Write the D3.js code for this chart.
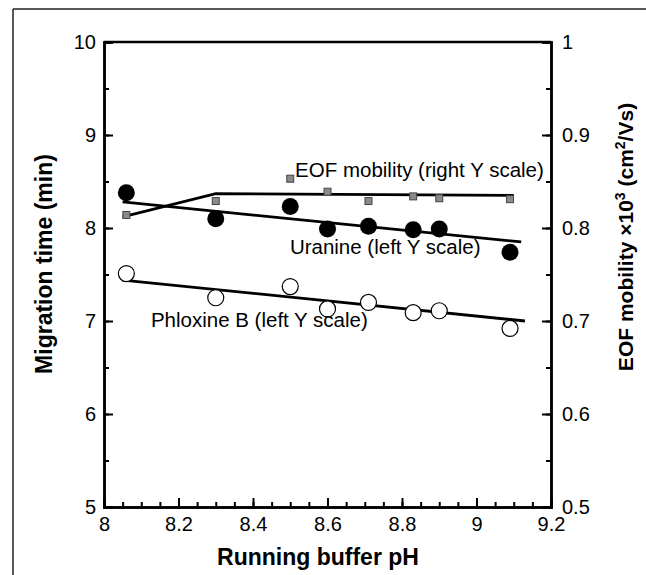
<!DOCTYPE html>
<html>
<head>
<meta charset="utf-8">
<script src="https://cdn.jsdelivr.net/npm/d3@7"></script>
<style>
  body { margin: 0; background: #fff; }
  svg text { font-family: "Liberation Sans", Arial, sans-serif; }
</style>
</head>
<body>
<svg id="chart" width="646" height="575"></svg>
<script>
// running buffer pH for each measurement
var phValues = [8.06, 8.30, 8.50, 8.60, 8.71, 8.83, 8.90, 9.09]
var uranine = [8.38, 8.10, 8.23, 7.99, 8.02, 7.98, 7.99, 7.74]   // min, left
var phloxine = [7.51, 7.25, 7.37, 7.13, 7.20, 7.09, 7.11, 6.92]  // min, left
var eofMobility = [0.814, 0.829, 0.853, 0.839, 0.829, 0.834, 0.832, 0.831] // right

// fitted lines as drawn in the figure [pH, value]
var uranineFit = [[8.05, 8.28], [9.12, 7.85]]
var phloxineFit = [[8.05, 7.44], [9.13, 7.00]]
var eofFit = [[8.05, 0.812], [8.30, 0.837], [9.10, 0.835]]

var xTicks = [8, 8.2, 8.4, 8.6, 8.8, 9, 9.2]
var leftTicks = [5, 6, 7, 8, 9, 10]
var rightTicks = [0.5, 0.6, 0.7, 0.8, 0.9, 1]

var plotL = 104, plotR = 551, plotT = 42, plotB = 507

var svg = d3.select('#chart')

var x = d3.scaleLinear().domain([8, 9.2]).range([plotL, plotR])
var yL = d3.scaleLinear().domain([5, 10]).range([plotB, plotT])
var yR = d3.scaleLinear().domain([0.5, 1]).range([plotB, plotT])

// outer figure border (top and left only)
svg.append('line').attr('x1', 13).attr('x2', 646).attr('y1', 9).attr('y2', 9)
  .attr('stroke', '#222').attr('stroke-width', 1.5)
svg.append('line').attr('x1', 13).attr('x2', 13).attr('y1', 9).attr('y2', 575)
  .attr('stroke', '#222').attr('stroke-width', 1.5)

// axes, ticks inward
function minor (lo, hi, step) {
  return d3.range(Math.round((hi - lo) / step) + 1).map(function (i) { return lo + i * step })
}

var gx = svg.append('g').attr('transform', 'translate(0,' + plotB + ')')
  .call(d3.axisBottom(x).tickValues(minor(8, 9.2, 0.05)).tickSize(-5).tickFormat(''))
gx.append('g').call(d3.axisBottom(x).tickValues(xTicks).tickSize(-9)
  .tickPadding(10).tickFormat(d3.format('')))

var gl = svg.append('g').attr('transform', 'translate(' + plotL + ',0)')
  .call(d3.axisLeft(yL).tickValues(minor(5, 10, 0.5)).tickSize(-5).tickFormat(''))
gl.append('g').call(d3.axisLeft(yL).tickValues(leftTicks).tickSize(-9)
  .tickPadding(8).tickFormat(d3.format('')))

var gr = svg.append('g').attr('transform', 'translate(' + plotR + ',0)')
  .call(d3.axisRight(yR).tickValues(minor(0.5, 1, 0.05)).tickSize(-5).tickFormat(''))
gr.append('g').call(d3.axisRight(yR).tickValues(rightTicks).tickSize(-9)
  .tickPadding(11).tickFormat(d3.format('')))

// top border
svg.append('line').attr('x1', plotL).attr('x2', plotR).attr('y1', plotT).attr('y2', plotT)
  .attr('stroke', '#000').attr('stroke-width', 2.5)

svg.selectAll('.domain').attr('stroke', '#000').attr('stroke-width', 2.5)
svg.selectAll('.tick line').attr('stroke', '#000').attr('stroke-width', 2)
svg.selectAll('.tick text').attr('font-size', 20).attr('fill', '#000')
  .attr('font-family', '"Liberation Sans", Arial, sans-serif')

// fit lines
var lineL = d3.line().x(function (d) { return x(d[0]) }).y(function (d) { return yL(d[1]) })
var lineR = d3.line().x(function (d) { return x(d[0]) }).y(function (d) { return yR(d[1]) })

svg.append('path').attr('d', lineL(uranineFit)).attr('fill', 'none').attr('stroke', '#000').attr('stroke-width', 2.8)
svg.append('path').attr('d', lineL(phloxineFit)).attr('fill', 'none').attr('stroke', '#000').attr('stroke-width', 2.8)
svg.append('path').attr('d', lineR(eofFit)).attr('fill', 'none').attr('stroke', '#000').attr('stroke-width', 2.8)

// EOF squares
svg.selectAll('.eof').data(eofMobility).enter().append('rect')
  .attr('x', function (d, i) { return x(phValues[i]) - 3.5 })
  .attr('y', function (d) { return yR(d) - 3.5 })
  .attr('width', 7).attr('height', 7)
  .attr('fill', '#8a8a8a').attr('stroke', '#444').attr('stroke-width', 1)

// Uranine filled circles
svg.selectAll('.ura').data(uranine).enter().append('circle')
  .attr('cx', function (d, i) { return x(phValues[i]) })
  .attr('cy', function (d) { return yL(d) })
  .attr('r', 8.5).attr('fill', '#000')

// Phloxine B open circles
svg.selectAll('.phl').data(phloxine).enter().append('circle')
  .attr('cx', function (d, i) { return x(phValues[i]) })
  .attr('cy', function (d) { return yL(d) })
  .attr('r', 8).attr('fill', '#fff').attr('stroke', '#000').attr('stroke-width', 1.2)

// annotations
var notes = [
  { text: 'EOF mobility (right Y scale)', px: 8.513, val: 8.545 },
  { text: 'Uranine (left Y scale)', px: 8.499, val: 7.72 },
  { text: 'Phloxine B (left Y scale)', px: 8.126, val: 6.94 }
]
svg.selectAll('.note').data(notes).enter().append('text')
  .attr('x', function (d) { return x(d.px) })
  .attr('y', function (d) { return yL(d.val) })
  .attr('font-size', 20.5).attr('fill', '#000')
  .text(function (d) { return d.text })

// axis titles
var boldFont = '"DejaVu Sans", sans-serif'
svg.append('text').attr('x', 318).attr('y', 565).attr('text-anchor', 'middle')
  .attr('font-family', boldFont).attr('font-size', 23).attr('font-weight', 'bold')
  .text('Running buffer pH')

svg.append('text').attr('transform', 'translate(52,264) rotate(-90)')
  .attr('text-anchor', 'middle').attr('font-family', boldFont)
  .attr('font-size', 23).attr('font-weight', 'bold')
  .text('Migration  time (min)')

var rt = svg.append('text').attr('transform', 'translate(633,237) rotate(-90)')
  .attr('text-anchor', 'middle').attr('font-size', 21).attr('font-weight', 'bold')
rt.append('tspan').text('EOF mobility \u00d710')
rt.append('tspan').attr('dy', -8).attr('font-size', 14).text('3')
rt.append('tspan').attr('dy', 8).text(' (cm')
rt.append('tspan').attr('dy', -8).attr('font-size', 14).text('2')
rt.append('tspan').attr('dy', 8).text('/Vs)')
</script>
</body>
</html>
